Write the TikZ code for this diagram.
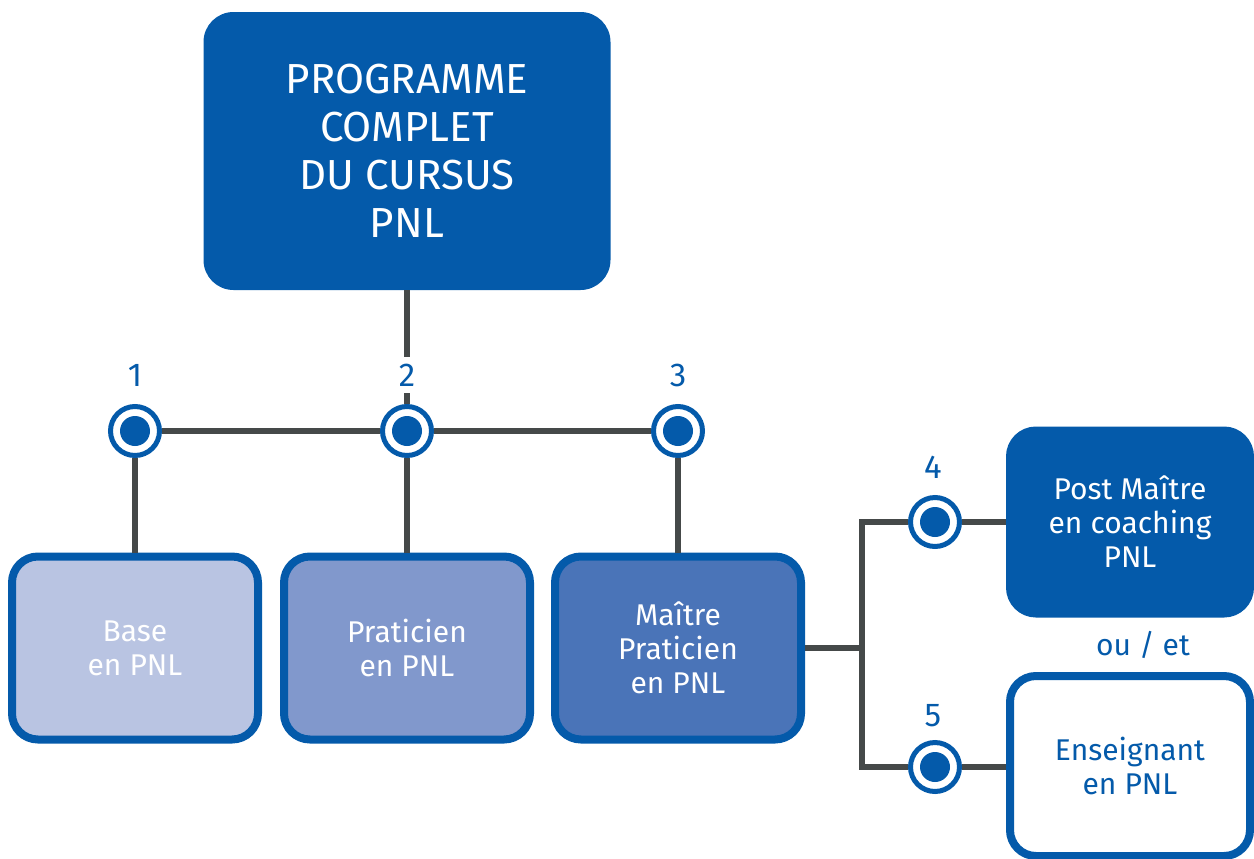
\documentclass[tikz,border=0pt]{standalone}
\usepackage{fontspec}
\setmainfont{Fira Sans}
\usetikzlibrary{positioning}

\definecolor{pnlblue}{HTML}{045AAA}
\definecolor{pnlgrey}{HTML}{454949}
\definecolor{baselight}{HTML}{B9C4E2}
\definecolor{pratmid}{HTML}{8198CC}
\definecolor{maitredark}{HTML}{4A74B8}

\tikzset{
  stage/.style={draw=pnlblue, line width=4pt, rounded corners=13pt, minimum width=123pt, minimum height=91.5pt, align=center, text=white, font=\fontsize{15}{17}\selectfont},
  hub/.style={circle, draw=pnlblue, fill=white, line width=2.5pt, minimum size=24.5pt, inner sep=0pt, path picture={\fill[pnlblue] (path picture bounding box.center) circle (7.5pt);}},
  num/.style={text=pnlblue, fill=white, font=\fontsize{16.5}{18}\selectfont},
  link/.style={draw=pnlgrey, line width=3pt}
}

\begin{document}
\begin{tikzpicture}[x=0.5pt, y=-0.5pt, line join=miter]
	\useasboundingbox (0,0) rectangle (1254,858);

	% programme
	\node[fill=pnlblue, rounded corners=15pt, minimum width=203.5pt, minimum height=139pt, align=center, text=white, font=\fontsize{21}{24}\selectfont] (prog) at (407,151) {PROGRAMME\\COMPLET\\DU CURSUS\\PNL};

	% les trois niveaux
	\node[hub] (c1) at (135,431) {};
	\node[hub] (c2) at (407,431) {};
	\node[hub] (c3) at (678,431) {};

	\node[stage, fill=baselight] (base) at (135,648) {Base\\en PNL};
	\node[stage, fill=pratmid] (prat) at (407,648) {Praticien\\en PNL};
	\node[stage, fill=maitredark] (maitre) at (678,648) {Maître\\Praticien\\en PNL};

	% suite du cursus
	\coordinate (fork) at (862,648);
	\node[hub] (c4) at (935,522) {};
	\node[hub] (c5) at (935,767) {};

	\node[stage, fill=pnlblue, minimum width=120pt] (post) at (1130,522) {Post Maître\\en coaching\\PNL};
	\node[stage, fill=white, text=pnlblue, minimum width=120pt, minimum height=90pt] (ens) at (1130,766) {Enseignant\\en PNL};
	\node[text=pnlblue, font=\fontsize{15}{17}\selectfont] (ouet) at (1143,645) {ou / et};

	\draw[link] (prog) -- (c2);
	\draw[link] (c1) -- (c2);
	\draw[link] (c2) -- (c3);
	\draw[link] (c1) -- (base);
	\draw[link] (c2) -- (prat);
	\draw[link] (c3) -- (maitre);
	\draw[link] (maitre.east) -- (fork);
	\draw[link] (c4) -| (fork) |- (c5);
	\draw[link] (c4) -- (post);
	\draw[link] (c5) -- (c5 -| ens.west);

	% numeros
	\node[num] (n1) at (135,375) {1};
	\node[num] (n2) at (407,375) {2};
	\node[num] (n3) at (678,375) {3};
	\node[num] (n4) at (933,467) {4};
	\node[num] (n5) at (933,716) {5};
\end{tikzpicture}
\end{document}
